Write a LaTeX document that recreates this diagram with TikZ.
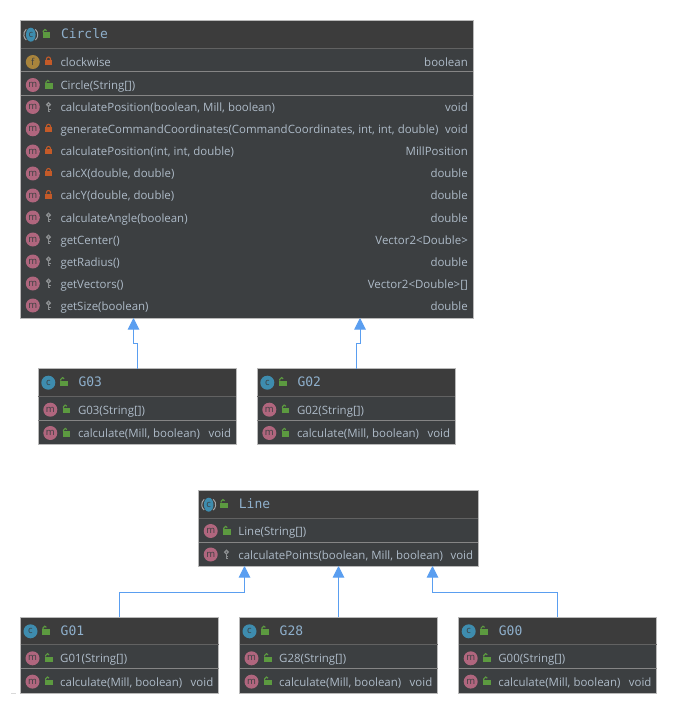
\documentclass[tikz,border=0pt]{standalone}
\usepackage{fontspec}
\usetikzlibrary{arrows.meta}
\setmainfont{Open Sans}
\newfontfamily\titlefont{DejaVu Sans Mono}
\definecolor{rowbg}{HTML}{3C3F41}
\definecolor{headbg}{HTML}{3C3C3C}
\definecolor{frame}{HTML}{B9B9B9}
\definecolor{sepdark}{HTML}{626262}
\definecolor{seplight}{HTML}{858585}
\definecolor{txt}{HTML}{AEBBC8}
\definecolor{ttl}{HTML}{8FB0CC}
\definecolor{blueline}{HTML}{5A9EF0}
\definecolor{micon}{HTML}{B0667E}
\definecolor{cicon}{HTML}{3E8CAE}
\definecolor{ficon}{HTML}{A9843C}
\definecolor{pub}{HTML}{5C9A40}
\definecolor{pri}{HTML}{C45A28}
\definecolor{pkg}{HTML}{8C8F91}
\tikzset{
  classbox/.style={draw=frame,line width=1pt,fill=rowbg,inner sep=0pt,outer sep=0pt,anchor=north west},
  headsep/.style={draw=sepdark,line width=1pt},
  rowsep/.style={draw=seplight,line width=1pt},
  rowtext/.style={text=txt,font=\fontsize{11.45}{13}\selectfont,inner sep=0pt,anchor=base west},
  rettext/.style={text=txt,font=\fontsize{11.45}{13}\selectfont,inner sep=0pt,anchor=base east},
  titletext/.style={text=ttl,font=\titlefont\fontsize{13}{15}\selectfont,inner sep=0pt,anchor=base west},
  iconletter/.style={text=rowbg,font=\fontsize{9.5}{10}\selectfont,inner sep=0pt,anchor=center},
  inherit/.style={draw=blueline,line width=1pt,-{Triangle[width=11.5pt,length=11.5pt,fill=blueline]}},
}
\newcount\nn
\newcommand{\stepn}{\global\advance\nn by 1\relax}
\newcommand{\lockpub}[2]{%
  \fill[pub] (#1-3.3,#2-1.7) rectangle (#1+4.4,#2+3.7);
  \draw[pub,line width=1.2pt] (#1-2.6,#2-1.7) -- (#1-2.6,#2-2.8) arc (180:20:1.8pt and 1.8pt);
}
\newcommand{\lockpri}[2]{%
  \fill[pri] (#1-3.3,#2-2) rectangle (#1+3.3,#2+3);
  \draw[pri,line width=1.1pt] (#1-2,#2-2) -- (#1-2,#2-3) arc (180:0:2pt and 2pt) -- (#1+2,#2-2);
}
\newcommand{\lockpkg}[2]{%
  \draw[pkg,line width=1.3pt] (#1,#2-2.4) circle (1.8pt);
  \draw[pkg,line width=1.4pt] (#1,#2-0.2) -- (#1,#2+4.6);
  \draw[pkg,line width=1pt] (#1,#2+2.2) -- (#1+2,#2+2.2);
  \draw[pkg,line width=1pt] (#1,#2+4.1) -- (#1+1.6,#2+4.1);
}
% #1 x left of box, #2 y centre, #3 colour, #4 letter, #5 lock macro, #6 text, #7 x right of box, #8 return
\newcommand{\classrow}[8]{%
  \fill[#3] (#1+12,#2) circle (7pt);
  \stepn\node[iconletter] (n\the\nn) at (#1+12,#2) {#4};
  #5{#1+27.7}{#2}
  \stepn\node[rowtext] (n\the\nn) at (#1+39.5,#2+4.5) {#6};
  \stepn\node[rettext] (n\the\nn) at (#7-5,#2+4.5) {#8};
}
% #1 name, #2 x0, #3 y0, #4 width, #5 height, #6 header height
\newcommand{\classframe}[6]{%
  \node[classbox,minimum width=#4pt,minimum height=#5pt] (#1) at (#2,#3) {};
  \fill[headbg] (#2+0.5,#3+0.5) rectangle (#2+#4-0.5,#3+#6);
}
\newcommand{\chead}[4]{% x, y, title, abstract?
  \ifnum#4=1
    \draw[pkg!80!white,line width=1pt] (#1+10-4.5,#2+0.5-5.4) arc (130:230:7pt);
    \draw[pkg!80!white,line width=1pt] (#1+10+4.5,#2+0.5-5.4) arc (50:-50:7pt);
    \fill[cicon] (#1+10,#2+0.5) ellipse (4.8pt and 7pt);
  \else
    \fill[cicon] (#1+10,#2+0.5) circle (7pt);
  \fi
  \stepn\node[iconletter] (n\the\nn) at (#1+10,#2+0.5) {c};
  \lockpub{#1+25}{#2}
  \stepn\node[titletext] (n\the\nn) at (#1+40,#2+4.5) {#3};
}
\newcommand{\smallclass}[4]{% name x y title
  \classframe{#1}{#2}{#3}{198}{75.8}{27.6}
  \draw[headsep] (#2,#3+27.6) -- (#2+198,#3+27.6);
  \draw[rowsep] (#2,#3+51.6) -- (#2+198,#3+51.6);
  \chead{#2}{#3+13.5}{#4}{0}
  \classrow{#2}{#3+41}{micon}{m}{\lockpub}{#4(String[])}{#2+198}{}
  \classrow{#2}{#3+64.3}{micon}{m}{\lockpub}{calculate(Mill, boolean)}{#2+198}{void}
}
\begin{document}
\begin{tikzpicture}[x=1pt,y=-1pt]
\useasboundingbox (0,0) rectangle (677,714);
\fill[white] (0,0) rectangle (677,714);

% Circle
\classframe{circle}{20.8}{20.7}{452.2}{297.3}{27.6}
\draw[headsep] (20.8,48.3) -- (473,48.3);
\draw[rowsep] (20.8,72) -- (473,72);
\draw[rowsep] (20.8,95.3) -- (473,95.3);
\chead{20.8}{34.2}{Circle}{1}
\classrow{20.8}{62}{ficon}{f}{\lockpri}{clockwise}{473}{boolean}
\classrow{20.8}{85}{micon}{m}{\lockpub}{Circle(String[])}{473}{}
\classrow{20.8}{107}{micon}{m}{\lockpkg}{calculatePosition(boolean, Mill, boolean)}{473}{void}
\classrow{20.8}{129.3}{micon}{m}{\lockpri}{generateCommandCoordinates(CommandCoordinates, int, int, double)}{473}{void}
\classrow{20.8}{151.5}{micon}{m}{\lockpri}{calculatePosition(int, int, double)}{473}{MillPosition}
\classrow{20.8}{173.5}{micon}{m}{\lockpri}{calcX(double, double)}{473}{double}
\classrow{20.8}{195.5}{micon}{m}{\lockpri}{calcY(double, double)}{473}{double}
\classrow{20.8}{217.5}{micon}{m}{\lockpkg}{calculateAngle(boolean)}{473}{double}
\classrow{20.8}{239.5}{micon}{m}{\lockpkg}{getCenter()}{473}{Vector2<Double>}
\classrow{20.8}{261.5}{micon}{m}{\lockpkg}{getRadius()}{473}{double}
\classrow{20.8}{283.5}{micon}{m}{\lockpkg}{getVectors()}{473}{Vector2<Double>[]}
\classrow{20.8}{305.5}{micon}{m}{\lockpkg}{getSize(boolean)}{473}{double}

\smallclass{gthree}{38.3}{368.7}{G03}
\smallclass{gtwo}{257.3}{368.7}{G02}

% Line
\classframe{line}{198.7}{490.7}{279.6}{75.3}{27.6}
\draw[headsep] (198.7,518.3) -- (478.3,518.3);
\draw[rowsep] (198.7,542.3) -- (478.3,542.3);
\chead{198.7}{504.2}{Line}{1}
\classrow{198.7}{531}{micon}{m}{\lockpub}{Line(String[])}{478.3}{}
\classrow{198.7}{554.5}{micon}{m}{\lockpkg}{calculatePoints(boolean, Mill, boolean)}{478.3}{void}

\smallclass{gone}{20.5}{617.3}{G01}
\smallclass{gtwentyeight}{239.5}{617.3}{G28}
\smallclass{gzero}{458.7}{617.3}{G00}

% faint mark at the lower left of the reference
\draw[black!15,line width=1pt] (11,693.5) -- (16,693.5);

% connector ends
\coordinate (ca) at (133.5,318);
\coordinate (cb) at (360,318);
\coordinate (ga) at (137.5,368.7);
\coordinate (gb) at (356,368.7);
\coordinate (la) at (244.5,566);
\coordinate (lb) at (338.5,566);
\coordinate (lc) at (432.5,566);
\coordinate (ua) at (119.5,617.3);
\coordinate (ub) at (338.5,617.3);
\coordinate (uc) at (557.5,617.3);
\draw[inherit] (ga) -- (137.5,343) -- (133.5,343) -- (ca);
\draw[inherit] (gb) -- (356,343) -- (360,343) -- (cb);
\draw[inherit] (ua) -- (119.5,592.5) -- (244.5,592.5) -- (la);
\draw[inherit] (ub) -- (lb);
\draw[inherit] (uc) -- (557.5,592.5) -- (432.5,592.5) -- (lc);
\end{tikzpicture}
\end{document}
